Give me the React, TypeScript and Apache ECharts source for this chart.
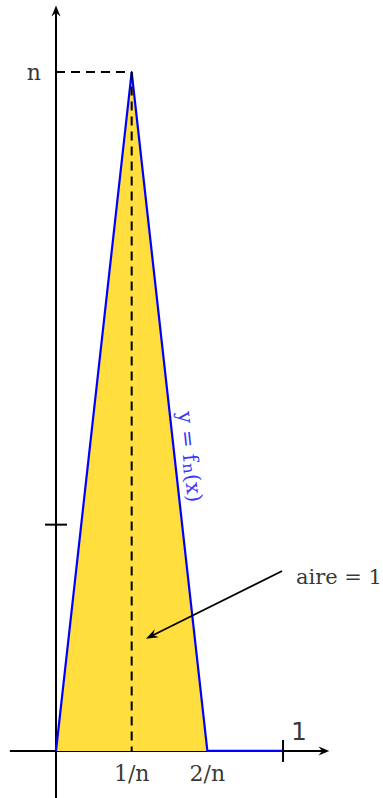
import React, { useEffect, useRef } from "react";
import * as echarts from "echarts";

// f_n for n = 3 : triangle of height n on [0, 2/n], then 0 up to 1
const N = 3;
const curveX = [0, 1 / N, 2 / N, 1];
const curveY = [0, N, 0, 0];
const dashedX = [0, 1 / N, 1 / N];
const dashedY = [N, N, 0];
const xTickValues = [1 / N, 2 / N];
const xTickTexts = ["1/n", "2/n"];
const yTickValue = N;
const yTickText = "n";
const unitValue = 1;
const unitText = "1";
const tickHalf = 0.0486;
const arrowFrom = [0.996, 0.795];
const arrowTo = [0.42, 0.508];
const areaText = "aire = 1";
const areaTextAt = [1.057, 0.77];
const curveLabelAt = [0.59, 1.3];

const BLUE = "#0000ff";
const YELLOW = "#ffde3d";
const SERIF = "'DejaVu Serif', 'Liberation Serif', serif";
const SANS = "'DejaVu Sans', sans-serif";

const arrowPath = "path://M5,0 L10,12 L5,8 L0,12 Z";

export default function App() {
  const ref = useRef<HTMLDivElement>(null);

  useEffect(() => {
    if (!ref.current) return;
    const chart = echarts.init(ref.current, undefined, { renderer: "svg" });

    const curve = curveX.map((x, i) => [x, curveY[i]]);
    const dashed = dashedX.map((x, i) => [x, dashedY[i]]);

    const axisCommon = {
      type: "value" as const,
      splitLine: { show: false },
      axisTick: { show: false },
      axisLabel: { show: false },
      axisLine: {
        show: true,
        onZero: true,
        symbol: ["none", arrowPath],
        symbolSize: [9, 11],
        lineStyle: { color: "#000", width: 2 },
      },
    };

    chart.setOption({
      animation: false,
      grid: { left: 10.6, right: 59.1, top: 11, bottom: 0 },
      xAxis: { ...axisCommon, min: -0.2, max: 1.18 },
      yAxis: { ...axisCommon, min: -0.208, max: 3.27 },
      series: [
        {
          type: "line",
          data: curve,
          symbol: "none",
          lineStyle: { color: BLUE, width: 2.2 },
          areaStyle: { color: YELLOW, opacity: 1 },
          z: 2,
        },
        {
          type: "line",
          data: dashed,
          symbol: "none",
          lineStyle: { color: "#000", width: 2, type: [9, 6] },
          z: 3,
        },
        {
          type: "line",
          data: [
            [unitValue, -tickHalf],
            [unitValue, tickHalf],
          ],
          symbol: "none",
          lineStyle: { color: "#000", width: 2 },
          z: 4,
        },
        {
          type: "line",
          data: [
            [-tickHalf, unitValue],
            [tickHalf, unitValue],
          ],
          symbol: "none",
          lineStyle: { color: "#000", width: 2 },
          z: 4,
        },
        {
          type: "scatter",
          symbolSize: 0,
          z: 5,
          data: [
            ...xTickValues.map((v, i) => ({
              value: [v, 0],
              label: {
                show: true,
                formatter: xTickTexts[i],
                position: "bottom",
                distance: 12,
                color: "#000",
                fontFamily: SERIF,
                fontSize: 22,
              },
            })),
            {
              value: [0, yTickValue],
              label: {
                show: true,
                formatter: yTickText,
                position: "left",
                distance: 15,
                color: "#000",
                fontFamily: SERIF,
                fontSize: 22,
              },
            },
            {
              value: [unitValue, 0],
              label: {
                show: true,
                formatter: unitText,
                position: "top",
                distance: 7,
                offset: [16, 0],
                color: "#000",
                fontFamily: SANS,
                fontSize: 25,
              },
            },
            {
              value: areaTextAt,
              label: {
                show: true,
                formatter: areaText,
                position: "right",
                distance: 0,
                color: "#000",
                fontFamily: SERIF,
                fontSize: 21,
              },
            },
          ],
          markLine: {
            silent: true,
            symbol: ["none", arrowPath],
            symbolSize: [9, 12],
            label: { show: false },
            lineStyle: { color: "#000", width: 1.8, type: "solid" },
            data: [[{ coord: arrowFrom }, { coord: arrowTo }]],
          },
        },
        {
          type: "scatter",
          symbolSize: 0,
          z: 5,
          data: [
            {
              value: curveLabelAt,
              label: {
                show: true,
                position: "inside",
                rotate: -83.7,
                formatter: "{a|y = f}{s|n}{a|(x)}",
                rich: {
                  a: { fontSize: 21, fontFamily: SERIF, color: BLUE },
                  s: {
                    fontSize: 16,
                    fontFamily: SERIF,
                    color: BLUE,
                    verticalAlign: "bottom",
                    padding: [5, 1, 0, 1],
                  },
                },
              },
            },
          ],
        },
      ],
    });

    return () => chart.dispose();
  }, []);

  return (
    <div
      ref={ref}
      style={{ position: "absolute", left: 0, top: 0, width: 383, height: 798 }}
    />
  );
}
